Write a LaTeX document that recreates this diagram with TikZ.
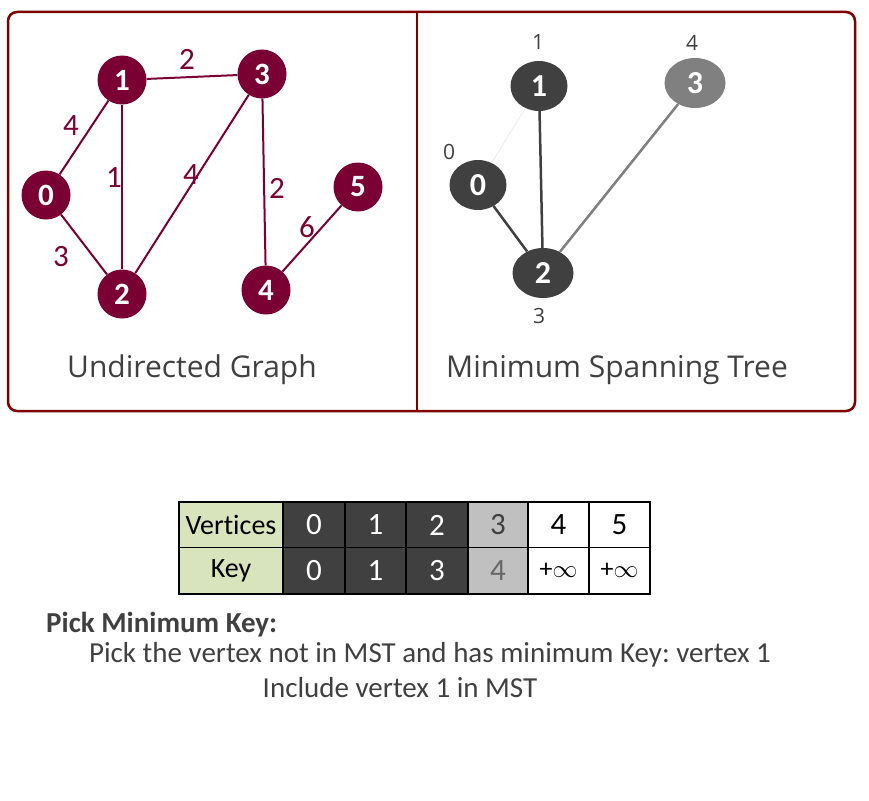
\documentclass[tikz,border=0pt]{standalone}
\usepackage{fontspec}
\setmainfont{Carlito}[Ligatures=NoCommon]
\newfontfamily\osans{Open Sans}
\usetikzlibrary{shapes.geometric}
\definecolor{framered}{RGB}{128,0,0}
\definecolor{maroon}{RGB}{122,0,51}
\definecolor{dgray}{RGB}{64,64,64}
\definecolor{mgray}{RGB}{128,128,128}
\definecolor{lgreen}{RGB}{216,228,188}
\definecolor{lgray}{RGB}{192,192,192}
\definecolor{txtgray}{RGB}{64,64,64}
\frenchspacing
\tikzset{
  gnode/.style={circle, fill=maroon, minimum size=49pt, inner sep=0pt, text=white, font=\fontsize{31}{32}\selectfont\bfseries},
  gedge/.style={draw=maroon, line width=2pt},
  elabel/.style={text=maroon, font=\fontsize{31}{34}\selectfont, inner sep=0pt},
  mnode/.style={ellipse, fill=dgray, minimum width=57pt, minimum height=50pt, inner sep=0pt, text=white, font=\fontsize{32}{34}\selectfont\bfseries},
  mlabel/.style={text=txtgray, font=\osans\fontsize{21}{24}\selectfont, inner sep=0pt},
  title/.style={text=txtgray, font=\osans\fontsize{30}{34}\selectfont, inner sep=0pt, anchor=base},
  cell/.style={draw=black, line width=1.3pt, inner sep=0pt, outer sep=0pt, minimum height=46pt, font=\fontsize{31}{32}\selectfont},
  plain/.style={text=txtgray, inner sep=0pt, font=\fontsize{29}{32}\selectfont, anchor=base},
}
\begin{document}
\begin{tikzpicture}[x=1pt,y=-1pt]
\useasboundingbox (0,0) rectangle (869,800);
% frame
\draw[framered, line width=2.5pt, rounded corners=9pt] (8,12) rectangle (855,411);
\draw[framered, line width=2.5pt] (417,12) -- (417,411);
% undirected graph
\node[gnode] (g0) at (46,195) {0};
\node[gnode] (g1) at (122,80) {1};
\node[gnode] (g2) at (122,294) {2};
\node[gnode] (g3) at (262,74) {3};
\node[gnode] (g4) at (266,290) {4};
\node[gnode] (g5) at (358,187) {5};
\draw[gedge] (g0) -- (g1);
\draw[gedge] (g0) -- (g2);
\draw[gedge] (g1) -- (g2);
\draw[gedge] (g1) -- (g3);
\draw[gedge] (g2) -- (g3);
\draw[gedge] (g3) -- (g4);
\draw[gedge] (g4) -- (g5);
\node[elabel] (l13) at (187,59) {2};
\node[elabel] (l01) at (71,126) {4};
\node[elabel] (l12) at (114,178) {1};
\node[elabel] (l23) at (191,175) {4};
\node[elabel] (l34) at (277,188) {2};
\node[elabel] (l45) at (307,227) {6};
\node[elabel] (l02) at (61,257) {3};
\node[title] (t1) at (192,377) {Undirected Graph};
% MST
\node[mnode] (m0) at (478,185) {0};
\node[mnode] (m1) at (539,86) {1};
\node[mnode, minimum width=61pt] (m2) at (543,273) {2};
\node[mnode, fill=mgray, minimum width=61pt] (m3) at (695,83) {3};
\draw[black!8, line width=0.8pt] (m0) -- (m1);
\draw[dgray, line width=2.5pt] (m1) -- (m2);
\draw[dgray, line width=2.5pt] (m0) -- (m2);
\draw[mgray, line width=2.5pt] (m3) -- (m2);
\node[mlabel] (k1) at (538,42) {1};
\node[mlabel] (k3) at (692,43) {4};
\node[mlabel] (k0) at (449,152) {0};
\node[mlabel] (k2) at (539,316) {3};
\node[title] (t2) at (617,377) {Minimum Spanning Tree};
% table
\node[cell, fill=lgreen, minimum width=104pt, text=black, font=\fontsize{28}{30}\selectfont] (vh) at (231,525) {Vertices};
\node[cell, fill=lgreen, minimum width=104pt, text=black, font=\fontsize{28}{30}\selectfont] (kh) at (231,570.5) {Key};
\node[cell, fill=dgray, minimum width=62pt, text=white] (v0) at (314,525) {0};
\node[cell, fill=dgray, minimum width=61pt, text=white] (v1) at (375.5,525) {1};
\node[cell, fill=dgray, minimum width=62pt, text=white] (v2) at (437,525) {2};
\node[cell, fill=lgray, minimum width=60pt, text=txtgray] (v3) at (498,525) {3};
\node[cell, fill=white, minimum width=61pt, text=black] (v4) at (558.5,525) {4};
\node[cell, fill=white, minimum width=61pt, text=black] (v5) at (619.5,525) {5};
\node[cell, fill=dgray, minimum width=62pt, text=white] (c0) at (314,570.5) {0};
\node[cell, fill=dgray, minimum width=61pt, text=white] (c1) at (375.5,570.5) {1};
\node[cell, fill=dgray, minimum width=62pt, text=white] (c2) at (437,570.5) {3};
\node[cell, fill=lgray, minimum width=60pt, text=black!60] (c3) at (498,570.5) {4};
\node[cell, fill=white, minimum width=61pt, text=black, font=\fontsize{26}{28}\selectfont] (c4) at (558.5,570.5) {+$\infty$};
\node[cell, fill=white, minimum width=61pt, text=black, font=\fontsize{26}{28}\selectfont] (c5) at (619.5,570.5) {+$\infty$};
\draw[black, line width=2pt] (vh.north west) rectangle (c5.south east);
% text
\node[plain, anchor=base west, font=\fontsize{29}{32}\selectfont\bfseries] (p1) at (46,632) {Pick Minimum Key:};
\node[plain] (p2) at (430,662) {Pick the vertex not in MST and has minimum Key: vertex 1};
\node[plain] (p3) at (400,697) {Include vertex 1 in MST};
\end{tikzpicture}
\end{document}
